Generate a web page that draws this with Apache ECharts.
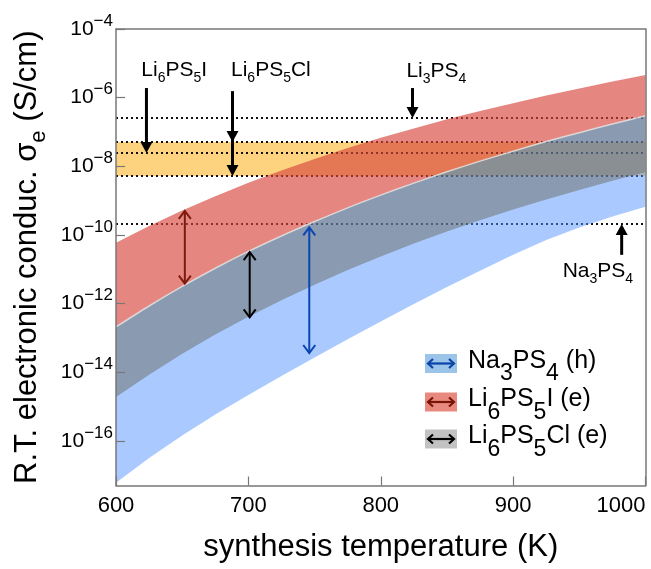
<!DOCTYPE html>
<html>
<head>
<meta charset="utf-8">
<script src="https://cdn.jsdelivr.net/npm/echarts@6/dist/echarts.min.js"></script>
<style>
  html, body { margin: 0; background: #fff; }
  #chart { width: 651px; height: 569px; }
</style>
</head>
<body>
<div id="chart"></div>
<script>
const FONT = '"Liberation Sans", Arial, Helvetica, sans-serif';

// synthesis temperature grid (K)
const temps = [600, 625, 650, 675, 700, 725, 750, 775, 800, 825, 850, 875, 900, 925, 950, 975, 1000];

// band edges, log10 of sigma_e in S/cm
const li6ps5iTop = [-10.23, -9.74, -9.29, -8.87, -8.48, -8.12, -7.79, -7.47, -7.17, -6.90, -6.63, -6.39, -6.16, -5.94, -5.73, -5.53, -5.34];
const li6ps5clTop = [-12.68, -12.07, -11.50, -10.97, -10.48, -10.03, -9.61, -9.21, -8.84, -8.49, -8.16, -7.85, -7.56, -7.28, -7.02, -6.77, -6.53];
const li6ps5clBottom = [-14.72, -14.07, -13.46, -12.90, -12.38, -11.90, -11.45, -11.02, -10.63, -10.25, -9.90, -9.57, -9.26, -8.97, -8.69, -8.42, -8.17];
const na3ps4Bottom = [-17.22, -16.50, -15.84, -15.23, -14.66, -14.11, -13.57, -13.04, -12.52, -12.01, -11.52, -11.04, -10.58, -10.15, -9.78, -9.46, -9.18];
// in the figure these edges sit on the Li6PS5Cl top edge
const li6ps5iBottom = li6ps5clTop.slice();
const na3ps4Top = li6ps5clTop.slice();

// measured room-temperature values (dotted lines), log10
const li3ps4Level = -6.59;
const li6ps5iLevel = -7.61;
const li6ps5clRange = [-7.29, -8.28];
const na3ps4Level = -9.68;

// double-headed arrows inside the bands
const spanTemps = [652, 701, 746];
const spanTops = [-9.30, -10.50, -9.78];
const spanBottoms = [-11.42, -12.40, -13.44];

// pointer arrows to the measured values
const pointerTemps = [623, 688, 824, 982];
const pointerFrom = [-5.72, -5.81, -5.72, -10.58];
const pointerTo = [-7.61, -8.28, -6.59, -9.68];

// compound labels
const labelTexts = [
  '{m|Li}{s|6}{m|PS}{s|5}{m|I}',
  '{m|Li}{s|6}{m|PS}{s|5}{m|Cl}',
  '{m|Li}{s|3}{m|PS}{s|4}',
  '{m|Na}{s|3}{m|PS}{s|4}'
];
const labelTemps = [644, 717, 842, 964];
const labelLevels = [-5.25, -5.25, -5.28, -11.11];

// legend entries
const legendNames = [
  '{m|Na}{s|3}{m|PS}{s|4}{m| (h)}',
  '{m|Li}{s|6}{m|PS}{s|5}{m|I (e)}',
  '{m|Li}{s|6}{m|PS}{s|5}{m|Cl (e)}'
];

const yTicks = [-16, -14, -12, -10, -8, -6, -4];

const blueFill = 'rgba(85,150,255,0.5)';
const redFill = 'rgba(215,70,60,0.65)';
const grayFill = 'rgba(105,105,100,0.5)';
const spanColors = ['#7d1a0e', '#000000', '#0a45b0'];

// one filled polygon per band, upper edge forward and lower edge back
function band(name, lower, upper, color, z) {
  return {
    name: name, type: 'custom', z: z, silent: true, clip: true,
    data: temps.map((t, i) => [t, lower[i], upper[i]]),
    encode: { x: 0, y: [1, 2] },
    renderItem: function (params, api) {
      if (params.dataIndex !== 0) return null;
      const pts = [];
      for (let i = 0; i < temps.length; i++) pts.push(api.coord([temps[i], upper[i]]));
      for (let i = temps.length - 1; i >= 0; i--) pts.push(api.coord([temps[i], lower[i]]));
      return { type: 'polygon', shape: { points: pts }, style: { fill: color } };
    }
  };
}

function renderSpan(params, api) {
  const p1 = api.coord([api.value(0), api.value(1)]);
  const p2 = api.coord([api.value(0), api.value(2)]);
  const c = spanColors[params.dataIndex];
  const w = 6, h = 8;
  const st = { stroke: c, fill: null, lineWidth: 2 };
  return {
    type: 'group',
    children: [
      { type: 'line', shape: { x1: p1[0], y1: p1[1], x2: p2[0], y2: p2[1] }, style: st },
      { type: 'polyline', shape: { points: [[p1[0] - w, p1[1] + h], [p1[0], p1[1]], [p1[0] + w, p1[1] + h]] }, style: st },
      { type: 'polyline', shape: { points: [[p2[0] - w, p2[1] - h], [p2[0], p2[1]], [p2[0] + w, p2[1] - h]] }, style: st }
    ]
  };
}

function renderPointer(params, api) {
  const p1 = api.coord([api.value(0), api.value(1)]);
  const p2 = api.coord([api.value(0), api.value(2)]);
  const dir = p2[1] > p1[1] ? 1 : -1;
  const head = (p) => ({
    type: 'polygon',
    shape: { points: [[p[0] - 6, p[1] - dir * 11], [p[0] + 6, p[1] - dir * 11], [p[0], p[1]]] },
    style: { fill: '#000' }
  });
  const children = [
    { type: 'line', shape: { x1: p1[0], y1: p1[1], x2: p2[0], y2: p2[1] - dir * 8 }, style: { stroke: '#000', lineWidth: 3 } },
    head(p2)
  ];
  if (params.dataIndex === 1) {
    children.push(head(api.coord([api.value(0), li6ps5clRange[0]])));
  }
  return { type: 'group', children: children };
}

const labelRich = {
  m: { fontSize: 21, lineHeight: 21, verticalAlign: 'top', fontFamily: FONT, color: '#000' },
  s: { fontSize: 14, lineHeight: 25.5, verticalAlign: 'bottom', fontFamily: FONT, color: '#000' }
};

function renderLabel(params, api) {
  const p = api.coord([api.value(0), api.value(1)]);
  return {
    type: 'text', x: p[0], y: p[1] - 12.6,
    style: { text: labelTexts[params.dataIndex], rich: labelRich, align: 'center', verticalAlign: 'top' }
  };
}

// legend drawn as graphics in the lower right of the plot
const legendRows = [363.5, 402, 439];
const legendFills = ['#9cc4e8', '#e8897f', '#c2c2c2'];
const legendArrows = ['#0b44a8', '#7a1408', '#000000'];
const legendRich = {
  m: { fontSize: 25, lineHeight: 25, verticalAlign: 'top', fontFamily: FONT, color: '#000' },
  s: { fontSize: 23, lineHeight: 37, verticalAlign: 'bottom', fontFamily: FONT, color: '#000' }
};
const legendGraphics = [];
legendRows.forEach((y, i) => {
  const c = legendArrows[i];
  const st = { stroke: c, fill: null, lineWidth: 2.2 };
  legendGraphics.push(
    { type: 'rect', shape: { x: 425, y: y - 9.5, width: 32, height: 19 }, style: { fill: legendFills[i] }, z: 20 },
    { type: 'line', shape: { x1: 428, y1: y, x2: 454, y2: y }, style: st, z: 21 },
    { type: 'polyline', shape: { points: [[433, y - 4.5], [428, y], [433, y + 4.5]] }, style: st, z: 21 },
    { type: 'polyline', shape: { points: [[449, y - 4.5], [454, y], [449, y + 4.5]] }, style: st, z: 21 },
    { type: 'text', x: 468, y: y - 15, style: { text: legendNames[i], rich: legendRich, verticalAlign: 'top' }, z: 21 }
  );
});

const axisLineStyle = { color: '#777', width: 1.5 };

const option = {
  backgroundColor: '#fff',
  animation: false,
  textStyle: { fontFamily: FONT },
  grid: { left: 116, right: 5.5, top: 29, bottom: 83.5 },
  xAxis: [
    {
      type: 'value', min: 600, max: 1000, interval: 100, z: 10,
      name: 'synthesis temperature (K)', nameLocation: 'middle', nameGap: 46,
      nameTextStyle: { fontSize: 31, color: '#000', fontFamily: FONT },
      axisLine: { lineStyle: axisLineStyle },
      axisTick: { inside: true, length: 9, lineStyle: { color: '#777', width: 1.2 } },
      axisLabel: { fontSize: 22, color: '#000', margin: 9, fontFamily: FONT, alignMaxLabel: 'right', formatter: (v) => String(v) },
      splitLine: { show: false }
    },
    {
      type: 'value', min: 600, max: 1000, position: 'top', z: 10,
      axisLine: { lineStyle: axisLineStyle }, axisTick: { show: false },
      axisLabel: { show: false }, splitLine: { show: false }
    }
  ],
  yAxis: [
    {
      type: 'value', min: -17.3, max: -4, z: 10,
      name: '{n|R.T. electronic conduc. σ}{s|e}{n| (S/cm)}',
      nameLocation: 'middle', nameRotate: 90, nameGap: 66,
      nameTextStyle: {
        color: '#000',
        rich: {
          n: { fontSize: 31, lineHeight: 31, verticalAlign: 'top', fontFamily: FONT, color: '#000' },
          s: { fontSize: 22, lineHeight: 38, verticalAlign: 'bottom', fontFamily: FONT, color: '#000' }
        }
      },
      axisLine: { lineStyle: axisLineStyle },
      axisTick: { inside: true, length: 9, customValues: yTicks, lineStyle: { color: '#777', width: 1.2 } },
      axisLabel: {
        customValues: yTicks, margin: 3,
        formatter: (v) => '{b|10}{e|\u2212' + Math.round(-v) + '}',
        rich: {
          b: { fontSize: 21, lineHeight: 33, verticalAlign: 'middle', fontFamily: FONT, color: '#000' },
          e: { fontSize: 17, lineHeight: 17, verticalAlign: 'top', fontFamily: FONT, color: '#000' }
        }
      },
      splitLine: { show: false }
    },
    {
      type: 'value', min: -17.3, max: -4, position: 'right', z: 10,
      axisLine: { lineStyle: axisLineStyle }, axisTick: { show: false },
      axisLabel: { show: false }, splitLine: { show: false }
    }
  ],
  graphic: legendGraphics,
  series: [
    {
      name: 'measured', type: 'line', data: [], silent: true, z: 1,
      markArea: {
        silent: true, z: 0,
        itemStyle: { color: '#fdd380' },
        data: [[{ yAxis: li6ps5clRange[0] }, { yAxis: li6ps5clRange[1] }]]
      },
      markLine: {
        silent: true, z: 1, symbol: 'none', label: { show: false },
        lineStyle: { type: [2, 3], width: 2, color: '#111' },
        data: [li3ps4Level, li6ps5clRange[0], li6ps5iLevel, li6ps5clRange[1], na3ps4Level].map((v) => ({ yAxis: v }))
      }
    },
    band('Na3PS4', na3ps4Bottom, na3ps4Top, blueFill, 2),
    band('Li6PS5I', li6ps5iBottom, li6ps5iTop, redFill, 3),
    band('Li6PS5Cl', li6ps5clBottom, li6ps5clTop, grayFill, 4),
    {
      name: 'edge', type: 'line', symbol: 'none', smooth: 0.3, silent: true, z: 5,
      data: temps.map((t, i) => [t, li6ps5clTop[i]]),
      lineStyle: { color: 'rgba(225,225,225,0.85)', width: 1.5 }
    },
    {
      name: 'spans', type: 'custom', z: 6, silent: true,
      data: spanTemps.map((t, i) => [t, spanTops[i], spanBottoms[i]]),
      encode: { x: 0, y: [1, 2] },
      renderItem: renderSpan
    },
    {
      name: 'pointers', type: 'custom', z: 6, silent: true,
      data: pointerTemps.map((t, i) => [t, pointerFrom[i], pointerTo[i]]),
      encode: { x: 0, y: [1, 2] },
      renderItem: renderPointer
    },
    {
      name: 'labels', type: 'custom', z: 6, silent: true,
      data: labelTemps.map((t, i) => [t, labelLevels[i]]),
      encode: { x: 0, y: 1 },
      renderItem: renderLabel
    }
  ]
};

const myChart = echarts.init(document.getElementById('chart'), null, { renderer: 'canvas' });
myChart.setOption(option);
</script>
</body>
</html>
